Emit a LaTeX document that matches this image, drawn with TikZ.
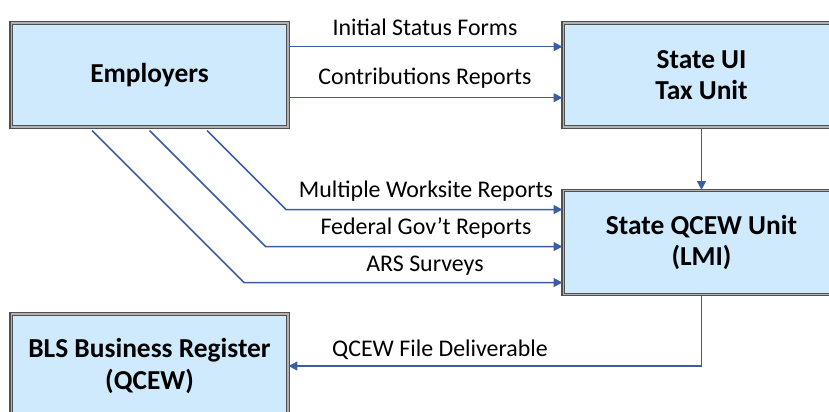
\documentclass[tikz,border=0pt]{standalone}
\usepackage{fontspec}
\setmainfont{Carlito}
\usetikzlibrary{arrows.meta,calc}
\definecolor{boxfill}{RGB}{207,234,252}
\definecolor{boxline}{RGB}{80,80,80}
\definecolor{flowblue}{RGB}{60,92,165}

\begin{document}
\begin{tikzpicture}[x=0.02cm, y=-0.02cm,
    unit/.style={draw=boxline, double=gray!60, double distance=0.6pt, line width=0.65pt,
      fill=boxfill, minimum width=5.54cm, minimum height=2.08cm, inner sep=0pt,
      align=center, font=\fontsize{15.6}{18}\selectfont\bfseries},
    flow/.style={flowblue, line width=0.9pt, -{Triangle[length=5pt,width=5pt]}},
    lbl/.style={inner sep=0pt, font=\fontsize{13.6}{15}\selectfont}]
    \useasboundingbox (0,0) rectangle (829,412);
    \clip (0,0) rectangle (829,412);
    % the four units
    \node (emp) at (149.5,75) [unit] {Employers};
    \node (ui) at (701.5,75) [unit] {State UI\\Tax Unit};
    \node (qcew) at (701.5,242.5) [unit] {State QCEW Unit\\(LMI)};
    \node (bls) at (149.5,366) [unit] {BLS Business Register\\(QCEW)};
    % employers to state UI
    \draw [flow] ($(emp.east)+(0,-28.3)$) -- ($(ui.west)+(0,-28.3)$);
    \draw [flow] ($(emp.east)+(0,22.7)$) -- ($(ui.west)+(0,22.7)$);
    \node (isf) at (425,27) [lbl] {Initial Status Forms};
    \node (cr) at (425,78) [lbl] {Contributions Reports};
    % employers to state QCEW
    \draw [flow] ($(emp.south)+(57.5,3)$) -- ++(79,79) coordinate (m1) -- (m1 -| qcew.west);
    \draw [flow] ($(emp.south)+(0,3)$) -- ++(116,116) coordinate (m2) -- (m2 -| qcew.west);
    \draw [flow] ($(emp.south)+(-57.5,3)$) -- ++(152,152) coordinate (m3) -- (m3 -| qcew.west);
    \node (mwr) at (426,191) [lbl] {Multiple Worksite Reports};
    \node (fgr) at (426,228) [lbl] {Federal Gov’t Reports};
    \node (ars) at (425,266) [lbl] {ARS Surveys};
    % down the chain
    \draw [flow] (ui.south) -- (qcew.north);
    \draw [flow] (qcew.south) |- (bls.east);
    \node (qfd) at (440,350) [lbl] {QCEW File Deliverable};
\end{tikzpicture}
\end{document}
